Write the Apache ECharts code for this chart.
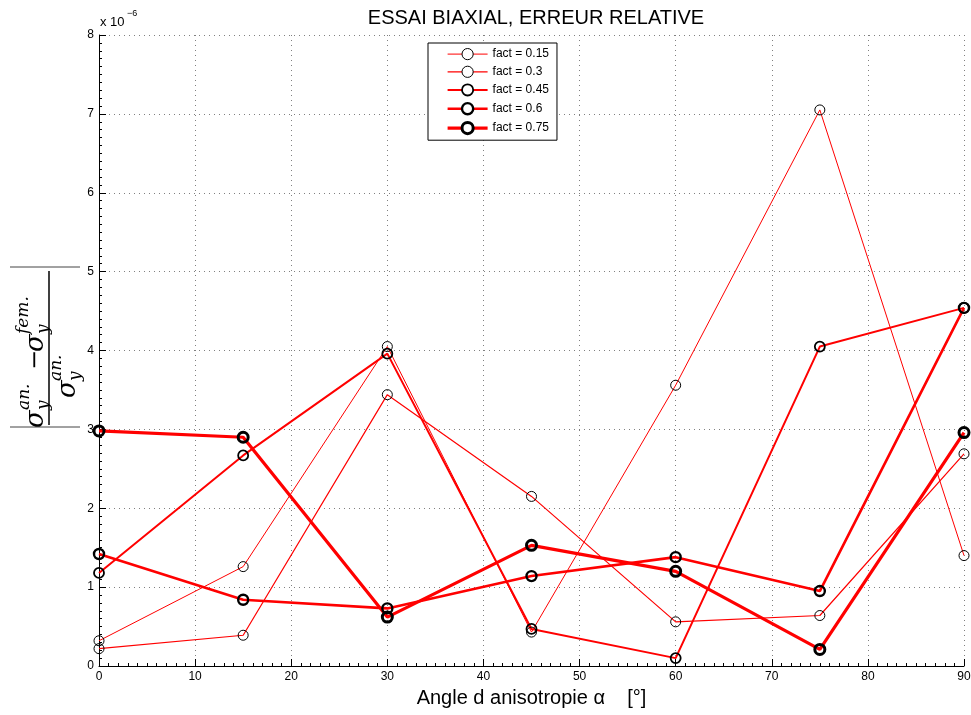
<!DOCTYPE html>
<html>
<head>
<meta charset="utf-8">
<script src="https://cdn.jsdelivr.net/npm/echarts@6/dist/echarts.min.js"></script>
<style>
  html, body { margin: 0; padding: 0; background: #fff; }
  #main { width: 971px; height: 715px; }
</style>
</head>
<body>
<div id="main"></div>
<script>
// angles (deg) and relative error values, in units of 1e-6
var angles = [0, 15, 30, 45, 60, 75, 90];
var fact015 = [0.32, 1.26, 4.05, 0.43, 3.56, 7.05, 1.40];
var fact030 = [0.22, 0.39, 3.44, 2.15, 0.56, 0.64, 2.69];
var fact045 = [1.18, 2.67, 3.96, 0.47, 0.10, 4.05, 4.54];
var fact060 = [1.42, 0.84, 0.73, 1.14, 1.38, 0.95, 4.54];
var fact075 = [2.98, 2.90, 0.62, 1.53, 1.20, 0.21, 2.96];
var seriesNames = ['fact = 0.15', 'fact = 0.3', 'fact = 0.45', 'fact = 0.6', 'fact = 0.75'];

var myChart = echarts.init(document.getElementById('main'));

function pairs(vals) {
    var out = [];
    for (var i = 0; i < angles.length; i++) {
        out.push([angles[i], vals[i]]);
    }
    return out;
}

// line width / marker border width per series (thin -> thick)
var lineW = [1, 1.2, 2, 2.6, 3.2];
var markW = [1, 1, 1.8, 2.4, 3];
var allData = [fact015, fact030, fact045, fact060, fact075];

var series = [];
var legendData = [];
for (var k = 0; k < allData.length; k++) {
    series.push({
        name: seriesNames[k],
        type: 'line',
        data: pairs(allData[k]),
        symbol: 'circle',
        symbolSize: 10,
        clip: false,
        lineStyle: { color: '#ff0000', width: lineW[k] },
        itemStyle: { color: 'rgba(255,255,255,0)', borderColor: '#000', borderWidth: markW[k] },
        emphasis: { disabled: true }
    });
    legendData.push({
        name: seriesNames[k],
        lineStyle: { color: '#ff0000', width: lineW[k] },
        itemStyle: { color: '#fff', borderColor: '#000', borderWidth: markW[k] }
    });
}

var serif = '"DejaVu Serif", "Liberation Serif", serif';
function t(str, x, y, size) {
    return {
        type: 'text',
        x: x, y: y,
        style: {
            text: str, fill: '#000',
            font: 'italic ' + size + 'px ' + serif,
            align: 'left', verticalAlign: 'middle'
        }
    };
}

var option = {
    backgroundColor: '#fff',
    animation: false,
    title: {
        text: 'ESSAI BIAXIAL, ERREUR RELATIVE',
        left: 531, top: 3, textAlign: 'center',
        textStyle: { fontFamily: 'Liberation Sans, Arial', fontSize: 20, fontWeight: 'normal', color: '#000' }
    },
    legend: {
        data: legendData,
        orient: 'vertical',
        left: 428, top: 43,
        itemWidth: 40, itemHeight: 14, itemGap: 5.5,
        padding: [5, 8, 5, 18],
        backgroundColor: '#fff',
        borderColor: '#000', borderWidth: 1,
        textStyle: { fontFamily: 'Liberation Sans, Arial', fontSize: 12, color: '#000' }
    },
    grid: { left: 99, right: 7, top: 35, bottom: 49, outerBoundsMode: 'none' },
    xAxis: {
        type: 'value',
        min: 0, max: 90, interval: 10,
        name: 'Angle d anisotropie α    [°]',
        nameLocation: 'middle', nameGap: 22,
        nameTextStyle: { fontFamily: 'Liberation Sans, Arial', fontSize: 20, color: '#000' },
        axisLine: { lineStyle: { color: '#000', width: 1 } },
        axisTick: { inside: true, length: 7, lineStyle: { color: '#000' } },
        minorTick: { show: true, splitNumber: 10, length: 3, lineStyle: { color: '#000' } },
        axisLabel: { margin: 5, fontFamily: 'Liberation Sans, Arial', fontSize: 12, color: '#000' },
        splitLine: { show: true, lineStyle: { color: '#808080', type: [1, 4], width: 1 } }
    },
    yAxis: {
        type: 'value',
        min: 0, max: 8, interval: 1,
        axisLine: { show: true, lineStyle: { color: '#000', width: 1 } },
        axisTick: { show: true, inside: true, length: 7, lineStyle: { color: '#000' } },
        minorTick: { show: true, splitNumber: 10, length: 3, lineStyle: { color: '#000' } },
        axisLabel: { margin: 5, fontFamily: 'Liberation Sans, Arial', fontSize: 12, color: '#000' },
        splitLine: { show: true, lineStyle: { color: '#808080', type: [1, 4], width: 1 } }
    },
    graphic: [
        // axis exponent
        {
            type: 'text', x: 100, y: 22,
            style: { text: 'x 10', fill: '#000', font: '13px "Liberation Sans", Arial', verticalAlign: 'middle' }
        },
        {
            type: 'text', x: 127, y: 14,
            style: { text: '−6', fill: '#000', font: '9px "Liberation Sans", Arial', verticalAlign: 'middle' }
        },
        // y label: |sigma_y^an. - sigma_y^fem.| / sigma_y^an. (rotated)
        {
            type: 'group',
            x: 49, y: 348,
            rotation: Math.PI / 2,
            children: [
                { type: 'line', shape: { x1: -77, y1: 0, x2: 77, y2: 0 }, style: { stroke: '#000', lineWidth: 1.5 } },
                { type: 'line', shape: { x1: 81, y1: -39, x2: 81, y2: 31 }, style: { stroke: '#444', lineWidth: 1 } },
                { type: 'line', shape: { x1: -79, y1: -39, x2: -79, y2: 31 }, style: { stroke: '#444', lineWidth: 1 } },
                t('σ', -80, -13, 26),
                t('y', -62, -5, 17),
                t('an.', -62, -24, 17),
                t('−', -22, -13, 24),
                t('σ', -4, -13, 26),
                t('y', 14, -5, 17),
                t('fem.', 14, -25, 17),
                t('σ', -50, 19, 26),
                t('y', -33, 27, 17),
                t('an.', -33, 8, 17)
            ]
        }
    ],
    series: series
};

myChart.setOption(option);
</script>
</body>
</html>
